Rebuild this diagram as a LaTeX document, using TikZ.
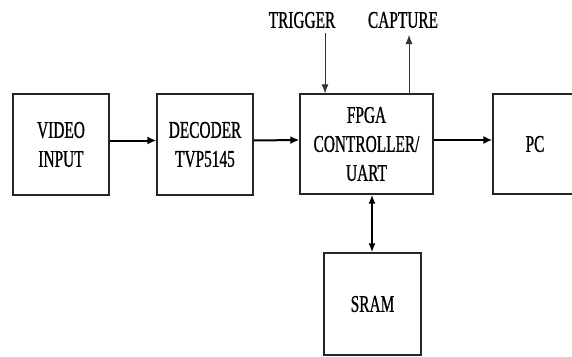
\documentclass[tikz,border=0pt]{standalone}
\usepackage{fontspec}
\setmainfont{Liberation Serif}[FakeStretch=0.64,FakeBold=0.8]
\usetikzlibrary{arrows.meta}
\begin{document}
\begin{tikzpicture}[x=1pt,y=-1pt,
  blk/.style={draw=black!85,line width=1.3pt,inner sep=0pt,align=center,
    font=\fontsize{24}{29}\selectfont},
  lbl/.style={inner sep=0pt,font=\fontsize{24}{29}\selectfont},
  mainarr/.style={line width=2pt,-{Latex[length=9pt,width=8pt]}},
  thinarr/.style={line width=0.8pt,draw=black!80,-{Latex[length=9pt,width=7pt]}},
  dblarr/.style={line width=1.6pt,{Latex[length=9pt,width=7pt]}-{Latex[length=9pt,width=7pt]}}]
\clip (0,0) rectangle (572,356);
\fill[white] (0,0) rectangle (572,356);
\node[blk,minimum width=96pt,minimum height=101pt] (vid) at (61,144.5) {VIDEO\\INPUT};
\node[blk,minimum width=96pt,minimum height=101pt] (dec) at (205,144.5) {DECODER\\TVP5145};
\node[blk,minimum width=133pt,minimum height=100pt] (fpga) at (366.5,144) {FPGA\\CONTROLLER/\\UART};
\node[blk,minimum width=84pt,minimum height=100pt] (pc) at (535,144) {PC};
\node[blk,minimum width=97pt,minimum height=102pt] (sram) at (372.5,304) {SRAM};
\node[lbl] (trig) at (302,20) {TRIGGER};
\node[lbl] (capt) at (403,20) {CAPTURE};
\draw[mainarr] ([yshift=4pt]vid.east) -- ([yshift=4pt]dec.west);
\draw[mainarr] ([yshift=4pt]dec.east) -- ([yshift=4pt]fpga.west);
\draw[mainarr] ([yshift=4pt]fpga.east) -- ([yshift=4pt]pc.west);
\coordinate (trigtop) at (325,33);
\coordinate (captop) at (409,35);
\draw[thinarr] (trigtop) -- (trigtop |- fpga.north);
\draw[thinarr] (captop |- fpga.north) -- (captop);
\draw[dblarr] (372,0 |- fpga.south) -- (372,0 |- sram.north);
\end{tikzpicture}
\end{document}
